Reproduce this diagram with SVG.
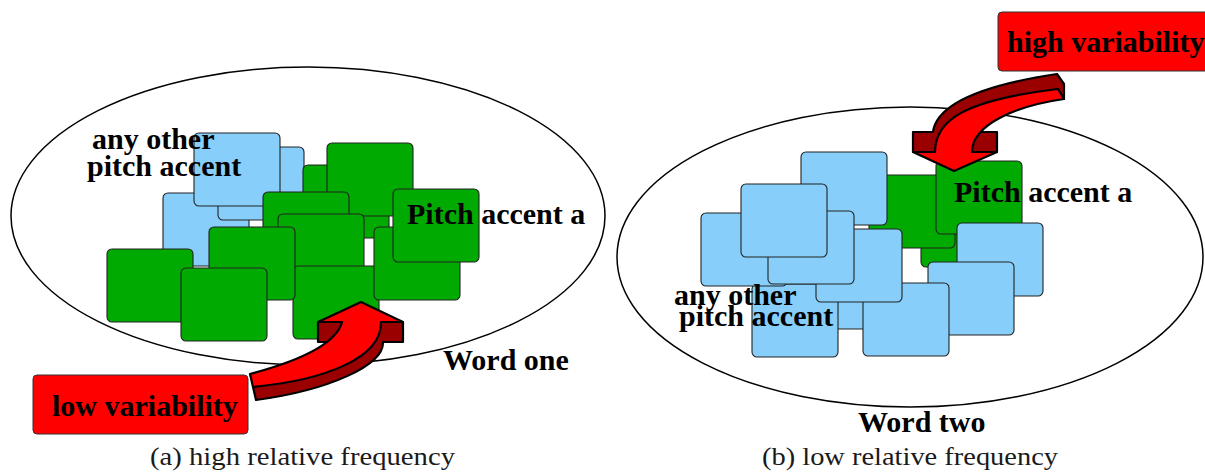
<svg xmlns="http://www.w3.org/2000/svg" width="1205" height="473" viewBox="0 0 1205 473">
  <style>
    .word { fill: none; stroke: #000; stroke-width: 1.5; }
    .sq { stroke: #222; stroke-width: 1.1; }
    .g { fill: #00aa00; }
    .b { fill: #87cefa; }
    .lbl { font-family: "Liberation Serif", "Times New Roman", serif; font-weight: bold; font-size: 30px; fill: #000; }
    .cap { font-family: "Liberation Serif", "Times New Roman", serif; font-size: 26px; fill: #1a1a1a; }
    .box { fill: #ff0000; stroke: #333; stroke-width: 1; }
    .face { fill: #ff0000; stroke: #000; stroke-width: 2.2; stroke-linejoin: round; }
    .side { fill: #9a0000; stroke: #000; stroke-width: 2.2; stroke-linejoin: round; }
  </style>
  <defs>
    <rect id="sq" width="86" height="73" rx="5" ry="5"/>
  </defs>

  <!-- (a) Word one -->
  <g id="word-one">
    <ellipse class="word" cx="308" cy="216" rx="297" ry="149"/>
    <g id="cluster-one">
      <use href="#sq" class="sq b" x="163" y="193"/>
      <use href="#sq" class="sq b" x="218" y="147"/>
      <use href="#sq" class="sq b" x="194" y="133"/>
      <use href="#sq" class="sq g" x="303" y="165"/>
      <use href="#sq" class="sq g" x="327" y="143"/>
      <use href="#sq" class="sq g" x="263" y="192"/>
      <use href="#sq" class="sq g" x="278" y="214"/>
      <use href="#sq" class="sq g" x="293" y="266"/>
      <use href="#sq" class="sq g" x="209" y="227"/>
      <use href="#sq" class="sq g" x="107" y="249"/>
      <use href="#sq" class="sq g" x="181" y="268"/>
      <use href="#sq" class="sq g" x="374" y="227"/>
      <use href="#sq" class="sq g" x="393" y="189"/>
    </g>
    <text class="lbl" x="92" y="149">any other</text>
    <text class="lbl" x="87" y="176">pitch accent</text>
    <text class="lbl" x="407" y="224">Pitch accent a</text>
    <text class="lbl" x="443" y="370">Word one</text>
  </g>

  <g id="low-variability">
    <rect class="box" x="33" y="375" width="215" height="59" rx="4" ry="4"/>
    <text class="lbl" x="52" y="416">low variability</text>
  </g>

  <!-- (b) Word two -->
  <g id="word-two">
    <ellipse class="word" cx="910" cy="257" rx="293" ry="150"/>
    <g id="cluster-two">
      <use href="#sq" class="sq b" x="800" y="256"/>
      <use href="#sq" class="sq g" x="921" y="194"/>
      <use href="#sq" class="sq g" x="869" y="175"/>
      <use href="#sq" class="sq b" x="801" y="152"/>
      <use href="#sq" class="sq g" x="936" y="161"/>
      <use href="#sq" class="sq b" x="957" y="223"/>
      <use href="#sq" class="sq b" x="928" y="262"/>
      <use href="#sq" class="sq b" x="863" y="283"/>
      <use href="#sq" class="sq b" x="752" y="284"/>
      <use href="#sq" class="sq b" x="816" y="229"/>
      <use href="#sq" class="sq b" x="701" y="213"/>
      <use href="#sq" class="sq b" x="768" y="211"/>
      <use href="#sq" class="sq b" x="741" y="184"/>
    </g>
    <text class="lbl" x="954" y="202">Pitch accent a</text>
    <text class="lbl" x="674" y="305">any other</text>
    <text class="lbl" x="679" y="326">pitch accent</text>
    <text class="lbl" x="858" y="432">Word two</text>
  </g>

  <g id="high-variability">
    <rect class="box" x="998" y="12" width="215" height="59" rx="4" ry="4"/>
    <text class="lbl" x="1007" y="52">high variability</text>
  </g>

  <!-- curved 3D block arrows -->
  <g id="connectors">
    <g id="arrow-low">
      <path class="side" d="M318,322 L403,322 L403,342 L383,342 C384,365 330,390 256,400 L253,387 L300,372 L355,352 L326,342 L318,342 Z"/>
      <path class="face" d="M361,302 L403,322 L381,322 C382,358 325,380 253,387 L250,374 C295,362 336,345 342,322 L318,322 Z"/>
    </g>
    <g id="arrow-high">
      <path class="side" d="M972,152 L972,132 L997,132 L997,152 Z"/>
      <path class="side" d="M913,152 L913,132 L933,132 C936,110 965,88 1057,74 L1064,84 L1064,99 L1058,89 L1000,103 L960,120 L945,140 L935,152 Z"/>
      <path class="face" d="M954,171 L913,152 L935,152 C935,120 965,100 1058,89 L1064,99 C1015,106 972,125 972,152 L997,152 Z"/>
    </g>
  </g>

  <text class="cap" x="150" y="465" textLength="305" lengthAdjust="spacingAndGlyphs">(a) high relative frequency</text>
  <text class="cap" x="762" y="465" textLength="296" lengthAdjust="spacingAndGlyphs">(b) low relative frequency</text>
</svg>
